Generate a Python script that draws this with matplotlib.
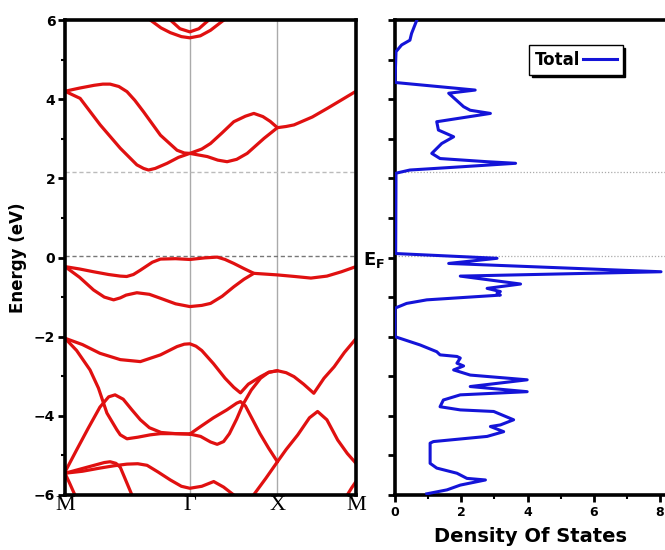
import matplotlib
matplotlib.use("Agg")
import matplotlib.pyplot as plt

# k-path positions (fraction of path length)
K_TICKS = [0.0, 0.429, 0.730, 1.0]
K_LABELS = ["M", "\u0393", "X", "M"]

# band lines: (k list, energy list)
band_t1_k = [0.293, 0.33, 0.362, 0.40, 0.429, 0.465, 0.50, 0.546]
band_t1_e = [6.0, 5.8, 5.68, 5.58, 5.55, 5.6, 5.74, 6.0]
band_t2_k = [0.362, 0.395, 0.429, 0.46, 0.494]
band_t2_e = [6.0, 5.78, 5.70, 5.78, 6.0]

band_a_k = [0, 0.05, 0.10, 0.13, 0.155, 0.185, 0.213, 0.24, 0.27, 0.328, 0.385, 0.41, 0.429, 0.47,
            0.50, 0.54, 0.58, 0.62, 0.649, 0.68, 0.705, 0.73, 0.76, 0.787, 0.85, 0.902, 0.95, 1.0]
band_a_e = [4.20, 4.28, 4.35, 4.38, 4.38, 4.32, 4.19, 3.97, 3.68, 3.09, 2.71, 2.64, 2.63, 2.74,
            2.88, 3.15, 3.43, 3.57, 3.64, 3.56, 3.44, 3.28, 3.31, 3.35, 3.55, 3.77, 3.98, 4.20]
band_b_k = [0, 0.052, 0.121, 0.19, 0.247, 0.27, 0.287, 0.31, 0.351, 0.39, 0.429, 0.489, 0.525,
            0.557, 0.59, 0.626, 0.684, 0.73]
band_b_e = [4.20, 4.02, 3.35, 2.76, 2.34, 2.25, 2.21, 2.25, 2.38, 2.53, 2.63, 2.55, 2.46,
            2.42, 2.48, 2.63, 3.01, 3.28]

band_v1_k = [0, 0.05, 0.098, 0.15, 0.19, 0.212, 0.235, 0.259, 0.30, 0.328, 0.38, 0.429, 0.48,
             0.523, 0.55, 0.58, 0.615, 0.649, 0.69, 0.73, 0.79, 0.845, 0.90, 0.95, 1.0]
band_v1_e = [-0.23, -0.29, -0.36, -0.43, -0.47, -0.48, -0.43, -0.32, -0.12, -0.04, -0.03, -0.05,
             -0.01, 0.01, -0.05, -0.15, -0.28, -0.40, -0.42, -0.44, -0.48, -0.52, -0.47, -0.36, -0.23]
band_v2_k = [0, 0.05, 0.098, 0.135, 0.167, 0.19, 0.21, 0.247, 0.29, 0.328, 0.38, 0.429, 0.47,
             0.50, 0.54, 0.58, 0.615, 0.649]
band_v2_e = [-0.23, -0.50, -0.82, -1.0, -1.07, -1.02, -0.95, -0.89, -0.93, -1.03, -1.17, -1.24,
             -1.21, -1.16, -0.98, -0.74, -0.55, -0.40]

band_d1_k = [0, 0.06, 0.12, 0.19, 0.259, 0.328, 0.385, 0.41, 0.429, 0.45, 0.47, 0.51, 0.55,
             0.58, 0.603, 0.63, 0.672, 0.70, 0.73, 0.76, 0.787, 0.82, 0.855, 0.89, 0.925, 0.96, 1.0]
band_d1_e = [-2.04, -2.2, -2.42, -2.58, -2.63, -2.46, -2.25, -2.19, -2.18, -2.24, -2.35, -2.68,
             -3.05, -3.28, -3.42, -3.2, -3.01, -2.9, -2.86, -2.91, -3.01, -3.2, -3.43, -3.05,
             -2.76, -2.4, -2.05]
band_d2_k = [0, 0.04, 0.086, 0.115, 0.144, 0.178, 0.19, 0.213, 0.25, 0.293, 0.328, 0.38, 0.429]
band_d2_e = [-2.04, -2.35, -2.84, -3.3, -3.93, -4.35, -4.48, -4.58, -4.54, -4.48, -4.45, -4.45, -4.46]
band_d3_k = [0, 0.04, 0.08, 0.12, 0.15, 0.172, 0.20, 0.23, 0.259, 0.29, 0.33, 0.38, 0.429]
band_d3_e = [-5.42, -4.86, -4.31, -3.78, -3.52, -3.47, -3.58, -3.85, -4.1, -4.3, -4.42, -4.45, -4.46]
band_d4_k = [0.429, 0.466, 0.50, 0.523, 0.545, 0.565, 0.59, 0.611, 0.64, 0.672, 0.70, 0.73]
band_d4_e = [-4.46, -4.52, -4.66, -4.72, -4.65, -4.45, -4.08, -3.72, -3.35, -3.05, -2.9, -2.86]
band_d5_k = [0.429, 0.466, 0.51, 0.556, 0.59, 0.603, 0.62, 0.67, 0.70, 0.73]
band_d5_e = [-4.46, -4.27, -4.05, -3.85, -3.68, -3.64, -3.75, -4.45, -4.82, -5.16]
band_d6_k = [0.648, 0.69, 0.73]
band_d6_e = [-6.0, -5.58, -5.16]
band_xm_k = [0.73, 0.76, 0.80, 0.84, 0.868, 0.90, 0.937, 0.97, 1.0]
band_xm_e = [-5.16, -4.85, -4.48, -4.05, -3.89, -4.1, -4.61, -4.95, -5.2]
band_br_k = [0.97, 0.985, 1.0]
band_br_e = [-6.0, -5.82, -5.66]

band_e1_k = [0, 0.05, 0.10, 0.135, 0.155, 0.175, 0.19, 0.21, 0.23]
band_e1_e = [-5.45, -5.35, -5.25, -5.18, -5.16, -5.2, -5.3, -5.65, -6.0]
band_e2_k = [0, 0.06, 0.12, 0.17, 0.213, 0.25, 0.282, 0.32, 0.362, 0.40, 0.429, 0.47, 0.511,
             0.545, 0.58]
band_e2_e = [-5.45, -5.40, -5.32, -5.26, -5.22, -5.21, -5.25, -5.42, -5.62, -5.78, -5.83, -5.78,
             -5.66, -5.8, -6.0]
band_e3_k = [0, 0.017, 0.034]
band_e3_e = [-5.45, -5.72, -6.0]

BANDS = [
    (band_t1_k, band_t1_e), (band_t2_k, band_t2_e),
    (band_a_k, band_a_e), (band_b_k, band_b_e),
    (band_v1_k, band_v1_e), (band_v2_k, band_v2_e),
    (band_d1_k, band_d1_e), (band_d2_k, band_d2_e), (band_d3_k, band_d3_e),
    (band_d4_k, band_d4_e), (band_d5_k, band_d5_e), (band_d6_k, band_d6_e),
    (band_xm_k, band_xm_e), (band_br_k, band_br_e),
    (band_e1_k, band_e1_e), (band_e2_k, band_e2_e), (band_e3_k, band_e3_e),
]

# total density of states
dos_energy = [6.0, 5.66, 5.49, 5.37, 5.2, 4.44, 4.42, 4.23, 4.15, 3.81, 3.72, 3.64, 3.43, 3.22,
              3.05, 2.88, 2.63, 2.5, 2.42, 2.38, 2.29, 2.21, 2.13, 0.1, -0.02, -0.15, -0.36,
              -0.47, -0.67, -0.78, -0.86, -0.9, -0.95, -1.07, -1.16, -1.28, -2.0, -2.21, -2.38,
              -2.46, -2.5, -2.54, -2.67, -2.74, -2.84, -2.97, -3.09, -3.26, -3.39, -3.47, -3.6,
              -3.77, -3.85, -3.89, -4.1, -4.23, -4.27, -4.4, -4.52, -4.65, -4.69, -5.2, -5.32,
              -5.45, -5.58, -5.62, -5.75, -5.87, -5.97]
dos_total = [0.66, 0.5, 0.45, 0.2, 0.03, 0.0, 0.02, 2.42, 1.62, 2.07, 2.27, 2.88, 1.26, 1.31,
             1.77, 1.41, 1.11, 1.36, 2.78, 3.64, 1.97, 0.45, 0.03, 0.02, 3.08, 1.62, 8.03,
             1.97, 3.79, 2.78, 3.18, 3.08, 3.18, 0.96, 0.35, 0.0, 0.0, 0.76, 1.26,
             1.36, 1.87, 1.97, 1.87, 2.07, 1.77, 2.27, 3.99, 2.27, 3.99, 1.97, 1.46,
             1.36, 1.97, 2.98, 3.58, 3.18, 2.88, 3.28, 2.78, 1.16, 1.06, 1.06, 1.26,
             1.87, 2.17, 2.73, 1.97, 1.57, 0.96]

E_FERMI = 0.04
E_CBM = 2.16

RED = "#e01010"
BLUE = "#1414d8"

fig = plt.figure(figsize=(6.65, 5.5), dpi=100)
ax1 = fig.add_axes([65 / 665, 55 / 550, 291 / 665, 475 / 550])
ax2 = fig.add_axes([395 / 665, 55 / 550, 270 / 665, 475 / 550])

# ---- band structure ----
for k, e in BANDS:
    ax1.plot(k, e, color=RED, lw=2.3, solid_capstyle="round", solid_joinstyle="round")
for kx in K_TICKS[1:3]:
    ax1.axvline(kx, color="#aaaaaa", lw=1.0, zorder=0)
ax1.axhline(E_FERMI, color="#777777", lw=1.0, ls=(0, (3, 2)), zorder=0)
ax1.axhline(E_CBM, color="#bbbbbb", lw=1.0, ls=(0, (3, 2)), zorder=0)
ax1.set_xlim(0, 1)
ax1.set_ylim(-6, 6)
ax1.set_xticks(K_TICKS)
ax1.set_xticklabels(K_LABELS, family="Liberation Serif", fontsize=16)
ax1.tick_params(axis="x", length=0, pad=1)
ax1.set_yticks([-6, -4, -2, 0, 2, 4, 6])
ax1.set_yticks([-5, -3, -1, 1, 3, 5], minor=True)
ax1.tick_params(axis="y", which="major", direction="out", length=5, width=2, labelsize=10, pad=2)
ax1.tick_params(axis="y", which="minor", direction="out", length=3, width=1.5)
for lab in ax1.get_yticklabels():
    lab.set_fontweight("bold")
ax1.set_ylabel("Energy (eV)", fontsize=12, fontweight="bold", labelpad=5)
for sp in ax1.spines.values():
    sp.set_linewidth(2.6)

# ---- density of states ----
ax2.plot(dos_total, dos_energy, color=BLUE, lw=2.2, label="Total", zorder=5)
ax2.axhline(E_FERMI, color="#aaaaaa", lw=0.9, ls=(0, (1, 1.5)), zorder=0)
ax2.axhline(E_CBM, color="#aaaaaa", lw=0.9, ls=(0, (1, 1.5)), zorder=0)
ax2.set_xlim(0, 8.15)
ax2.set_ylim(-6, 6)
ax2.set_xticks([0, 2, 4, 6, 8])
ax2.set_xticks([1, 3, 5, 7], minor=True)
ax2.set_yticks(range(-6, 7))
ax2.set_yticklabels(["E$_\\mathregular{F}$" if v == 0 else "" for v in range(-6, 7)])
ax2.tick_params(axis="both", which="major", direction="out", length=5, width=2, labelsize=9, pad=3)
ax2.tick_params(axis="y", labelsize=13, pad=2)
ax2.tick_params(axis="x", which="minor", direction="out", length=3, width=1.5)
for lab in ax2.get_xticklabels() + ax2.get_yticklabels():
    lab.set_fontweight("bold")
ax2.set_xlabel("Density Of States", fontsize=14, fontweight="bold", labelpad=6)
for sp in ax2.spines.values():
    sp.set_linewidth(2.6)
ax2.spines["right"].set_visible(False)

leg = ax2.legend(loc="upper left", bbox_to_anchor=(0.465, 0.965), markerfirst=False,
                 fancybox=False, shadow={"color": "black", "alpha": 1.0}, framealpha=1,
                 edgecolor="black", handlelength=2.0, handletextpad=0.2, borderpad=0.35,
                 prop={"weight": "bold", "size": 12})
leg.get_frame().set_linewidth(1.0)

fig.savefig("out.png", dpi=100)
